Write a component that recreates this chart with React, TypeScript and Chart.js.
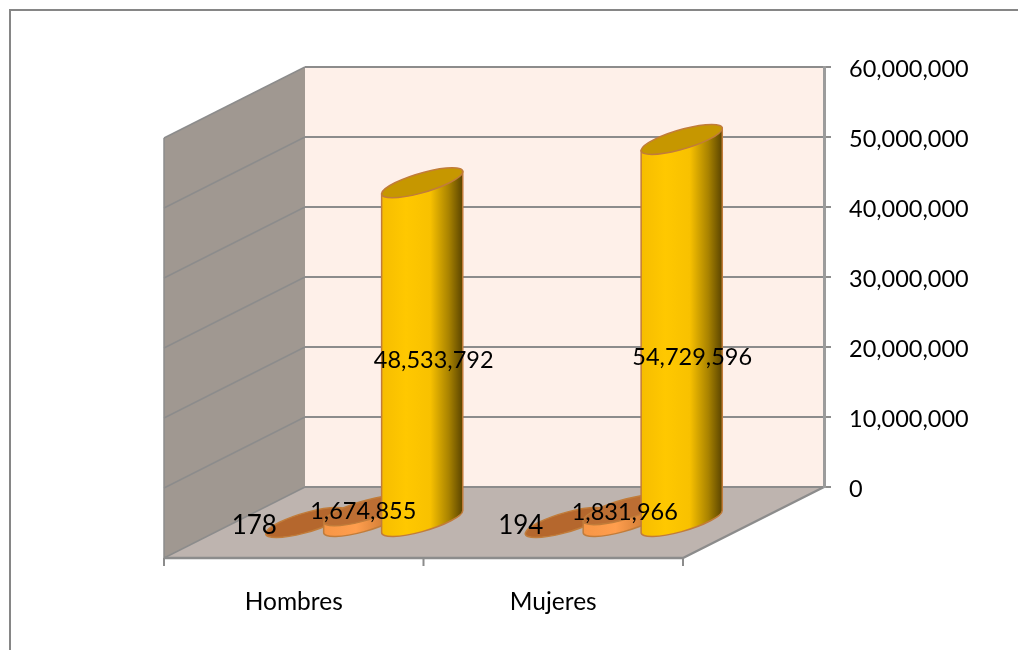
import React, { useEffect, useRef } from "react";
import { Chart, registerables } from "chart.js";

Chart.register(...registerables);

// ---- data ----
const categories = ["Hombres", "Mujeres"];
const seriesA = [178, 194];
const seriesB = [1674855, 1831966];
const seriesC = [48533792, 54729596];
const yMax = 60000000;
const yStep = 10000000;

// ---- styles ----
const FONT = "Lato, sans-serif";
const FONT_SIZE = 23.5;
const CATEGORY_FONT_SIZE = 24.5;
const labelFontSizes = [26, 23.5, 23.5];
const DEPTH_X = 141;
const DEPTH_Y = 71;
const LINE = "#8c8c8c";
const seriesStyles = [
  {
    top: "#B5672D",
    stops: [[0, "#B5672D"], [1, "#8a4d20"]],
  },
  {
    top: "#BC6E33",
    stops: [[0, "#F79646"], [0.4, "#FF9E4E"], [0.7, "#D9833A"], [1, "#7A4A20"]],
  },
  {
    top: "#C69700",
    stops: [[0, "#F6BD00"], [0.3, "#FFC800"], [0.6, "#F8C100"], [0.83, "#A88200"], [1, "#5A4400"]],
  },
];
const STROKE = "#C17C3A";
// manual placement of the data labels relative to each cylinder's centre
const labelShift = [
  [[-52, 4], [-45, 4]],
  [[-1, -5], [1, -3]],
  [[11.5, 8], [10.5, 27]],
];

function fmt(v: number) {
  return Number(v).toLocaleString("en-US");
}

const scene3d = {
  id: "scene3d",
  beforeDraw(chart: any) {
    const { ctx, chartArea: a } = chart;
    const { left: l, right: r, top: t, bottom: b } = a;
    const dx = DEPTH_X, dy = DEPTH_Y;
    ctx.save();
    // outer frame
    ctx.strokeStyle = "#868686";
    ctx.lineWidth = 2;
    ctx.beginPath();
    ctx.moveTo(10, chart.height);
    ctx.lineTo(10, 10);
    ctx.lineTo(chart.width, 10);
    ctx.stroke();
    // back wall
    ctx.fillStyle = "#FEF0E9";
    ctx.fillRect(l, t, r - l, b - t);
    // left wall
    ctx.fillStyle = "#A09891";
    ctx.beginPath();
    ctx.moveTo(l, t);
    ctx.lineTo(l - dx, t + dy);
    ctx.lineTo(l - dx, b + dy);
    ctx.lineTo(l, b);
    ctx.closePath();
    ctx.fill();
    // floor
    ctx.fillStyle = "#BEB4AF";
    ctx.beginPath();
    ctx.moveTo(l, b);
    ctx.lineTo(r, b);
    ctx.lineTo(r - dx, b + dy);
    ctx.lineTo(l - dx, b + dy);
    ctx.closePath();
    ctx.fill();
    // left-wall grid lines follow the value scale
    ctx.strokeStyle = LINE;
    ctx.lineWidth = 1.5;
    const ys = chart.scales.y;
    for (const tick of ys.ticks) {
      const y = ys.getPixelForValue(tick.value);
      ctx.beginPath();
      ctx.moveTo(l, y);
      ctx.lineTo(l - dx, y + dy);
      ctx.stroke();
    }
    // wall edges
    ctx.beginPath();
    ctx.moveTo(l - dx, t + dy);
    ctx.lineTo(l - dx, b + dy);
    ctx.stroke();
    // floor front edge and category ticks
    ctx.strokeStyle = LINE;
    ctx.lineWidth = 2.5;
    ctx.beginPath();
    ctx.moveTo(l - dx, b + dy);
    ctx.lineTo(r - dx, b + dy);
    ctx.moveTo(r - dx, b + dy);
    ctx.lineTo(r, b);
    ctx.stroke();
    ctx.lineWidth = 2;
    const w = (r - l) / categories.length;
    ctx.beginPath();
    for (let i = 0; i <= categories.length; i++) {
      const x = l - dx + i * w;
      ctx.moveTo(x, b + dy);
      ctx.lineTo(x, b + dy + 8);
    }
    ctx.stroke();
    ctx.restore();
  },
  beforeDatasetDraw() {
    return false;
  },
  afterDatasetsDraw(chart: any) {
    const { ctx } = chart;
    const sx = -DEPTH_X / 2;
    const sy = DEPTH_Y / 2;
    chart.data.datasets.forEach((_: any, di: number) => {
      const meta = chart.getDatasetMeta(di);
      const st = seriesStyles[di];
      meta.data.forEach((el: any) => {
        const R = el.width / 2;
        const cx = el.x + sx;
        const topY = el.y + sy;
        const baseY = el.base + sy;
        const ux = 0.673 * R, vx = -0.74 * R, vy = 0.37 * R;
        const t0 = Math.atan2(vx / R, ux / R);
        const tip = vy * Math.sin(t0); // negative: right tip sits higher
        ctx.save();
        ctx.lineWidth = 1.5;
        ctx.strokeStyle = STROKE;
        if (baseY - topY > 0.5) {
          const g = ctx.createLinearGradient(cx - R, 0, cx + R, 0);
          st.stops.forEach(([o, c]: any) => g.addColorStop(o, c));
          ctx.fillStyle = g;
          ctx.beginPath();
          ctx.moveTo(cx + R, topY + tip);
          ctx.save();
          ctx.transform(ux, 0, vx, vy, cx, baseY);
          ctx.arc(0, 0, 1, t0, t0 + Math.PI);
          ctx.restore();
          ctx.lineTo(cx - R, topY - tip);
          ctx.closePath();
          ctx.fill();
          ctx.stroke();
        }
        ctx.fillStyle = st.top;
        ctx.beginPath();
        ctx.save();
        ctx.transform(ux, 0, vx, vy, cx, topY);
        ctx.arc(0, 0, 1, 0, Math.PI * 2);
        ctx.restore();
        ctx.closePath();
        ctx.fill();
        ctx.stroke();
        ctx.restore();
      });
    });
    // data labels
    ctx.save();
    ctx.fillStyle = "#000";
    ctx.textAlign = "center";
    ctx.textBaseline = "middle";
    chart.data.datasets.forEach((ds: any, di: number) => {
      ctx.font = `${labelFontSizes[di]}px ${FONT}`;
      chart.getDatasetMeta(di).data.forEach((el: any, i: number) => {
        const [ox, oy] = labelShift[di][i];
        ctx.fillText(
          fmt(ds.data[i]),
          el.x + sx + ox,
          (el.y + el.base) / 2 + sy + oy
        );
      });
    });
    ctx.restore();
  },
};

export default function App() {
  const ref = useRef<HTMLCanvasElement | null>(null);
  useEffect(() => {
    document.body.style.margin = "0";
    document.body.style.background = "#fff";
    const chart = new Chart(ref.current as HTMLCanvasElement, {
      type: "bar",
      data: {
        labels: categories,
        datasets: [
          { label: "Serie 1", data: seriesA, backgroundColor: "#B5672D" },
          { label: "Serie 2", data: seriesB, backgroundColor: "#F79646" },
          { label: "Serie 3", data: seriesC, backgroundColor: "#FFC800" },
        ],
      },
      options: {
        responsive: false,
        animation: false,
        categoryPercentage: 0.67,
        barPercentage: 1.4,
        layout: { padding: { left: 305, top: 67, right: 0, bottom: 0 } },
        plugins: { legend: { display: false }, tooltip: { enabled: false }, title: { display: false } },
        scales: {
          x: {
            type: "category",
            grid: { display: false },
            border: { display: false },
            ticks: {
              color: "#000",
              font: { family: FONT, size: CATEGORY_FONT_SIZE },
              padding: 92,
              labelOffset: -DEPTH_X,
              maxRotation: 0,
              autoSkip: false,
            },
            afterFit(s: any) {
              s.height = 163;
              s.paddingLeft = 0;
              s.paddingRight = 0;
            },
          },
          y: {
            type: "linear",
            position: "right",
            min: 0,
            max: yMax,
            border: { display: true, color: "#9c9c9c", width: 3 },
            grid: { color: LINE, lineWidth: 2, tickLength: 7, tickColor: LINE, drawTicks: true },
            ticks: {
              stepSize: yStep,
              color: "#000",
              padding: 18,
              labelOffset: 2,
              font: { family: FONT, size: FONT_SIZE },
              callback: (v: any) => fmt(v),
            },
            afterFit(s: any) {
              s.width = 194;
              s.paddingTop = 0;
              s.paddingBottom = 0;
            },
          },
        },
      } as any,
      plugins: [scene3d as any],
    });
    return () => chart.destroy();
  }, []);
  return (
    <div style={{ width: 1018, height: 650 }}>
      <canvas ref={ref} width={1018} height={650} style={{ display: "block" }} />
    </div>
  );
}
